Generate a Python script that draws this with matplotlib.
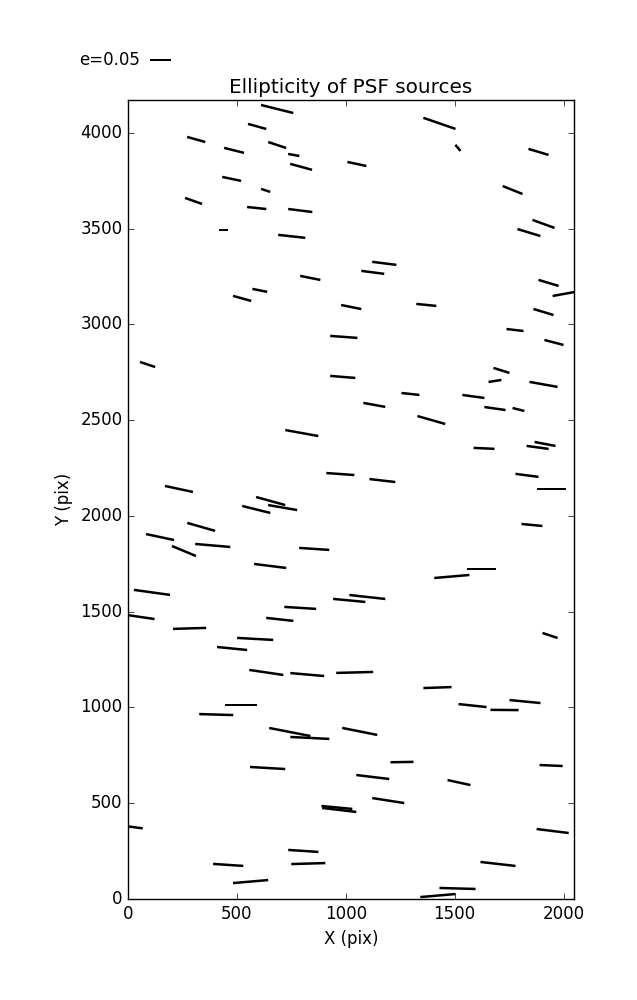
import numpy as np
import matplotlib
matplotlib.use("Agg")
import matplotlib.pyplot as plt

plt.style.use("classic")

# PSF star positions (pix), ellipticity and position angle (deg)
x = [685, 593, 313, 685, 487, 761, 795, 1051, 476, 632,
     301, 591, 791, 439, 752, 605, 524, 837, 1177, 1124,
     1430, 1515, 1885, 1766, 1908, 1841, 1931, 2000, 90, 234,
     655, 589, 710, 1025, 1370, 991, 986, 1297, 1131, 1393,
     798, 975, 1168, 1908, 1777, 1956, 1715, 1685, 1908, 1586,
     1685, 1793, 1915, 1881, 1635, 1832, 1945, 336, 147, 257,
     389, 653, 855, 110, 55, 283, 584, 478, 635, 697,
     1099, 1016, 791, 823, 1041, 1421, 1855, 1625, 1487, 1938,
     1823, 520, 405, 743, 641, 20, 460, 563, 835, 1064,
     1258, 1124, 1195, 959, 970, 805, 828, 1423, 1582, 1729,
     1943, 1520, 1950, 1699, 1513]
y = [4125, 4034, 3966, 3937, 3909, 3885, 3823, 3838, 3760, 3700,
     3645, 3608, 3595, 3494, 3460, 3178, 3136, 3243, 3319, 3272,
     4050, 3922, 3901, 3702, 3525, 3480, 3217, 3159, 2791, 2141,
     2078, 2034, 2044, 3091, 3102, 2935, 2726, 2637, 2580, 2501,
     2433, 2219, 2185, 3065, 2971, 2906, 2760, 2705, 2687, 2624,
     2561, 2556, 2376, 2358, 2353, 2212, 2141, 1943, 1890, 1817,
     1846, 1739, 1828, 1601, 1473, 1413, 1358, 1308, 1183, 1460,
     1577, 1559, 1520, 1172, 1183, 1104, 1953, 1723, 1684, 1376,
     1031, 1013, 963, 872, 684, 376, 178, 91, 841, 875,
     715, 637, 514, 478, 465, 251, 185, 18, 1010, 987,
     697, 608, 355, 183, 55]
e = [0.079, 0.045, 0.045, 0.045, 0.049, 0.027, 0.054, 0.046, 0.046, 0.023,
     0.043, 0.046, 0.058, 0.021, 0.065, 0.036, 0.045, 0.049, 0.058, 0.055,
     0.081, 0.019, 0.050, 0.051, 0.056, 0.057, 0.050, 0.053, 0.038, 0.068,
     0.072, 0.069, 0.070, 0.049, 0.048, 0.065, 0.060, 0.043, 0.053, 0.069,
     0.080, 0.067, 0.062, 0.050, 0.041, 0.047, 0.040, 0.031, 0.068, 0.053,
     0.051, 0.029, 0.051, 0.053, 0.050, 0.055, 0.071, 0.069, 0.068, 0.062,
     0.084, 0.077, 0.072, 0.087, 0.070, 0.079, 0.086, 0.072, 0.082, 0.065,
     0.086, 0.077, 0.076, 0.081, 0.088, 0.067, 0.050, 0.069, 0.084, 0.038,
     0.074, 0.076, 0.081, 0.100, 0.084, 0.050, 0.072, 0.084, 0.093, 0.085,
     0.055, 0.079, 0.077, 0.074, 0.082, 0.072, 0.081, 0.084, 0.067, 0.067,
     0.055, 0.056, 0.077, 0.084, 0.086]
theta = [-14.0, -15.5, -15.5, -18.4, -14.0, -10.3, -15.3, -11.9, -11.9, -18.4,
         -19.4, -6.0, -7.1, 0.0, -6.3, -11.3, -15.5, -11.3, -7.1, -7.4,
         -19.0, -50.2, -16.7, -21.8, -20.0, -16.9, -16.7, 10.3, -18.4, -12.1,
         -15.4, -14.0, -9.8, -11.3, -5.7, -4.2, -4.6, -6.3, -10.3, -15.9,
         -10.3, -4.1, -6.6, -16.7, -6.7, -14.7, -17.4, 8.7, -10.1, -7.8,
         -8.1, -14.0, -10.8, -7.8, -2.7, -7.4, 0.0, -15.9, -12.1, -22.6,
         -4.9, -7.1, -3.8, -7.9, -8.4, 1.7, -3.2, -5.7, -8.4, -6.3,
         -6.3, -5.4, -3.6, -5.0, 1.5, 2.0, -5.4, 0.0, 4.9, -18.4,
         -5.5, 0.0, -1.7, -11.0, -3.3, -7.6, -3.8, 4.9, -2.9, -11.3,
         1.0, -6.9, -8.9, -5.5, -6.7, -3.8, 1.7, 4.9, -6.1, -0.5,
         -2.5, -12.3, -7.1, -6.5, -1.6]

e = np.array(e)
th = np.radians(theta)
u = e * np.cos(th)
v = e * np.sin(th)

fig = plt.figure(figsize=(6.37, 10), dpi=100, facecolor="white")
ax = fig.add_axes([128 / 637, 0.101, 446 / 637, 0.799])

q = ax.quiver(x, y, u, v, pivot="middle", headwidth=0, headlength=0,
              headaxislength=0, minlength=0, units="dots", width=2.5,
              scale_units="inches", scale=0.05 / 0.21, color="k")
ax.quiverkey(q, 0.235, 0.94, 0.05, "e=0.05", labelpos="W",
             coordinates="figure", fontproperties={"size": 12})

ax.set_xlim(0, 2048)
ax.set_ylim(0, 4172)
ax.set_xticks(np.arange(0, 2001, 500))
ax.set_yticks(np.arange(0, 4001, 500))
ax.set_xlabel("X (pix)")
ax.set_ylabel("Y (pix)")
ax.set_title("Ellipticity of PSF sources")

fig.savefig("out.png", dpi=100, facecolor="white")
